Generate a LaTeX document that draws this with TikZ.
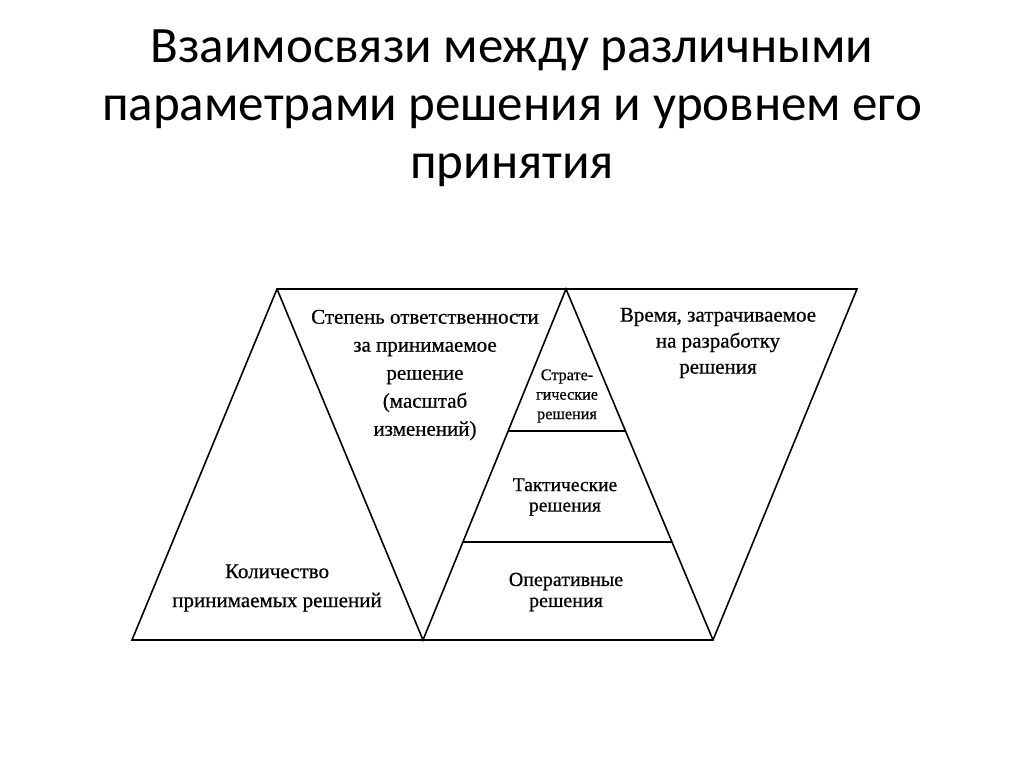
\documentclass[tikz,border=0pt]{standalone}
\usepackage{fontspec}
\usetikzlibrary{calc}
\setmainfont[FakeBold=0.6]{Liberation Serif}
\newfontfamily\titlefont{Carlito}
\begin{document}
\begin{tikzpicture}[x=1pt,y=-1pt,
  edge/.style={line width=1.6pt,line join=miter},
  big/.style={font=\fontsize{21}{28}\selectfont,align=center,inner sep=0pt},
  small/.style={font=\fontsize{19.5}{20.5}\selectfont,align=center,inner sep=0pt},
  ttl/.style={font=\titlefont\fontsize{51}{58}\selectfont,align=center,inner sep=0pt}]
\useasboundingbox[fill=white] (0,0) rectangle (1024,767);
% corner coordinates
\coordinate (TL) at (277,289);
\coordinate (TM) at (566,289);
\coordinate (TR) at (857,289);
\coordinate (BL) at (132,640);
\coordinate (BM) at (423,640);
\coordinate (BR) at (713,640);
% outline and triangles
\draw[edge] (TL) -- (TR) -- (BR) -- (BL) -- cycle;
\draw[edge] (TL) -- (BM) -- (TM) -- (BR);
% horizontal dividers in central triangle
\coordinate (d1l) at ($(TM)!0.4046!(BM)$);
\coordinate (d1r) at ($(TM)!0.4046!(BR)$);
\coordinate (d2l) at ($(TM)!0.7208!(BM)$);
\coordinate (d2r) at ($(TM)!0.7208!(BR)$);
\draw[edge] (d1l) -- (d1r);
\draw[edge] (d2l) -- (d2r);
% title
\node[ttl] (title) at (512,108) {Взаимосвязи между различными\\параметрами решения и уровнем его\\принятия};
% texts
\node[big] (resp) at (425,375) {Степень ответственности\\за принимаемое\\решение\\(масштаб\\изменений)};
\node[big,font=\fontsize{21}{29}\selectfont] (count) at (277,588) {Количество\\принимаемых решений};
\node[big,font=\fontsize{21}{26}\selectfont] (time) at (718,343) {Время, затрачиваемое\\на разработку\\решения};
\node[small,font=\fontsize{16.2}{19.5}\selectfont] (strat) at (567,396) {Страте-\\гические\\решения};
\node[small] (tact) at (565,497) {Тактические\\решения};
\node[small,font=\fontsize{20}{21}\selectfont] (oper) at (566,592) {Оперативные\\решения};
\end{tikzpicture}
\end{document}
